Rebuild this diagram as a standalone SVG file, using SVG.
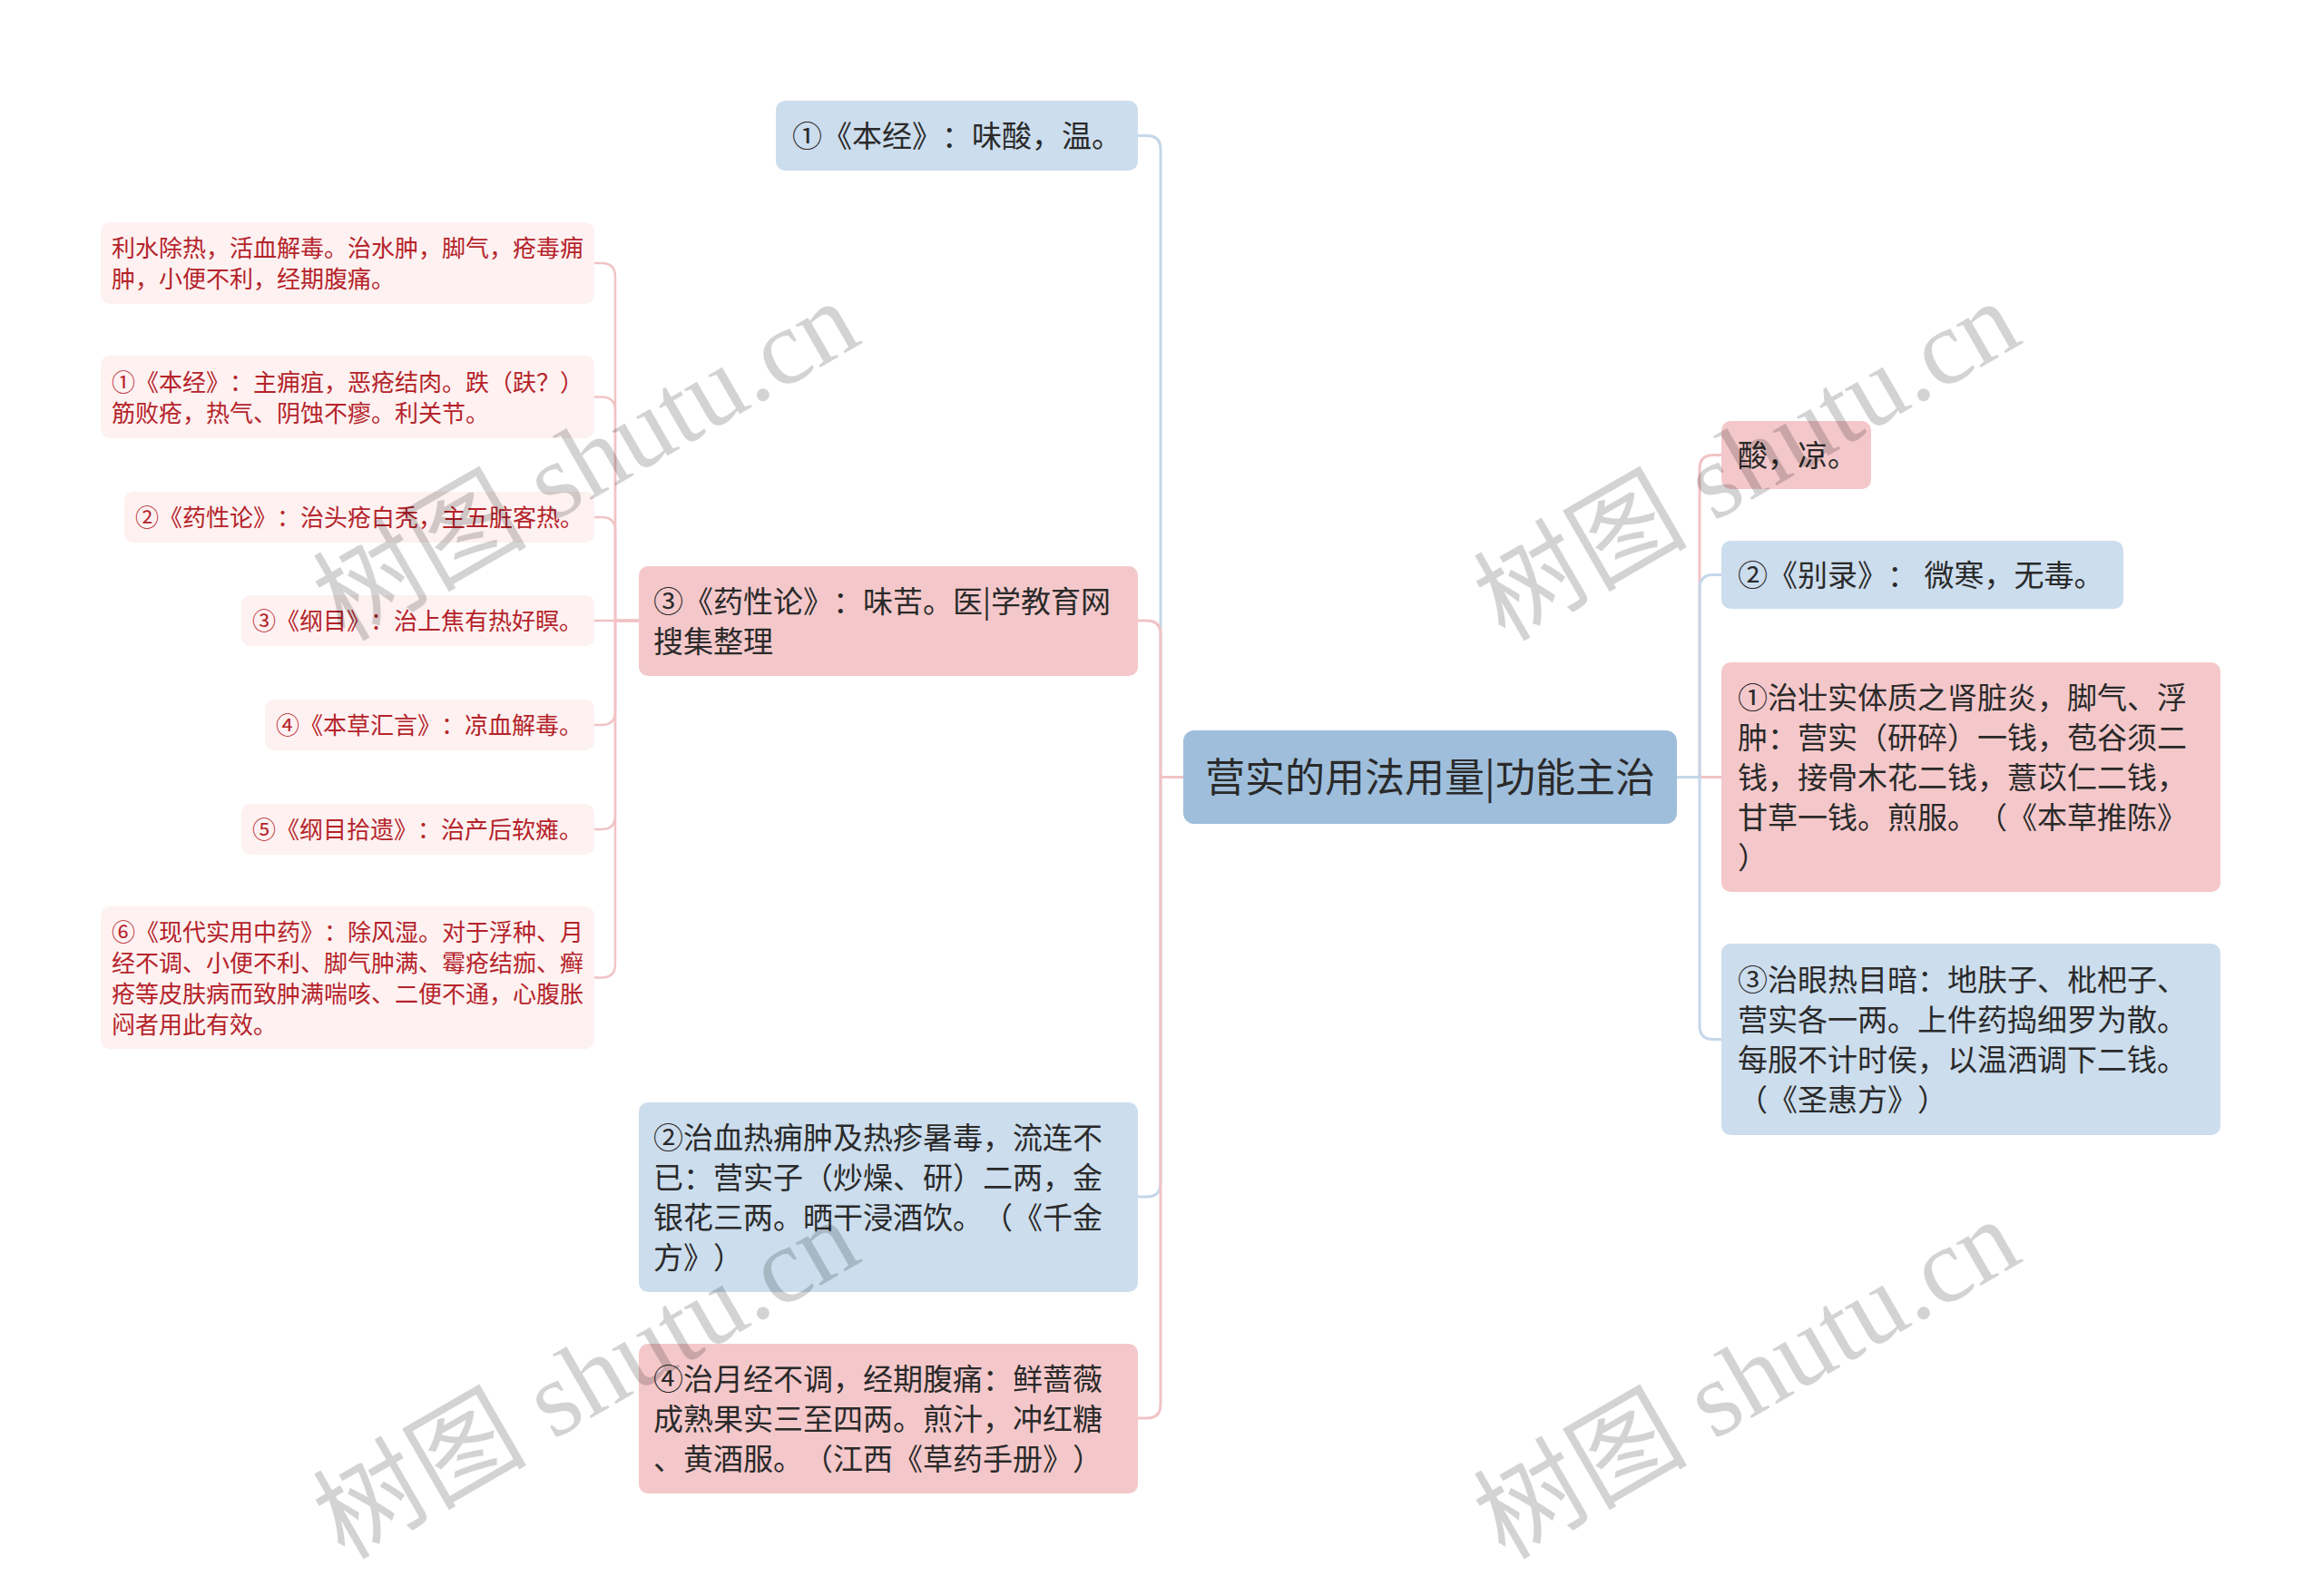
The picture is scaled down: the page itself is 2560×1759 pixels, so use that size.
<svg xmlns="http://www.w3.org/2000/svg" width="2560" height="1759" viewBox="0 0 2560 1759">
<style>
text{font-family:"Noto Sans CJK SC","Liberation Sans",sans-serif;text-spacing-trim:space-all;}
.t1{font-size:33px;fill:#2a2a2a;}
.t0{font-size:44px;fill:#2a2a2a;}
.tl{font-size:26px;fill:#b5232a;}
.blue{fill:#ccdded;}
.pink{fill:#f4c8ca;}
.leaf{fill:#fdf1f1;}
.root{fill:#9fbedb;}
.cb{fill:none;stroke:#c5d7e9;stroke-width:3;}
.cp{fill:none;stroke:#f1c3c5;stroke-width:3;}
.cl{fill:none;stroke:#f1c3c5;stroke-width:2.5;}
.wm{font-family:"Liberation Serif","Noto Sans CJK SC",serif;font-size:118px;fill:#000;opacity:0.17;}
</style>
<rect width="2560" height="1759" fill="#ffffff"/>
<g id="connectors">
<path class="cb" d="M1304 856.5 H1279 V164.5 Q1279 149.5 1264 149.5 H1254"/>
<path class="cp" d="M1304 856.5 H1279 V699 Q1279 684 1264 684 H1254"/>
<path class="cb" d="M1304 856.5 H1279 V1304 Q1279 1319 1264 1319 H1254"/>
<path class="cp" d="M1304 856.5 H1279 V1548 Q1279 1563 1264 1563 H1254"/>
<path class="cp" d="M1848 856.5 H1873 V516.5 Q1873 501.5 1888 501.5 H1897"/>
<path class="cb" d="M1848 856.5 H1873 V648.5 Q1873 633.5 1888 633.5 H1897"/>
<path class="cp" d="M1848 856.5 H1897"/>
<path class="cb" d="M1848 856.5 H1873 V1130.5 Q1873 1145.5 1888 1145.5 H1897"/>
<path class="cl" d="M704 684 H678 V305 Q678 290 663 290 H655"/>
<path class="cl" d="M704 684 H678 V452.5 Q678 437.5 663 437.5 H655"/>
<path class="cl" d="M704 684 H678 V585 Q678 570 663 570 H655"/>
<path class="cl" d="M704 684 H655"/>
<path class="cl" d="M704 684 H678 V784 Q678 799 663 799 H655"/>
<path class="cl" d="M704 684 H678 V899 Q678 914 663 914 H655"/>
<path class="cl" d="M704 684 H678 V1062.5 Q678 1077.5 663 1077.5 H655"/>
</g>
<g id="root">
<rect class="root" x="1304" y="805" width="544" height="103" rx="12"/>
<text class="t0" x="1576" y="873" text-anchor="middle">营实的用法用量|功能主治</text>
</g>
<g id="nA">
<rect class="blue" x="855" y="111" width="399" height="77" rx="10"/>
<text class="t1" x="873" y="162">①《本经》：味酸，温。</text>
</g>
<g id="nB">
<rect class="pink" x="704" y="624" width="550" height="121" rx="10"/>
<text class="t1" x="720" y="675">③《药性论》：味苦。医|学教育网</text>
<text class="t1" x="720" y="719">搜集整理</text>
</g>
<g id="nC">
<rect class="blue" x="704" y="1215" width="550" height="209" rx="10"/>
<text class="t1" x="720" y="1266">②治血热痈肿及热疹暑毒，流连不</text>
<text class="t1" x="720" y="1310">已：营实子（炒燥、研）二两，金</text>
<text class="t1" x="720" y="1354">银花三两。晒干浸酒饮。（《千金</text>
<text class="t1" x="720" y="1398">方》）</text>
</g>
<g id="nD">
<rect class="pink" x="704" y="1481" width="550" height="165" rx="10"/>
<text class="t1" x="720" y="1532">④治月经不调，经期腹痛：鲜蔷薇</text>
<text class="t1" x="720" y="1576">成熟果实三至四两。煎汁，冲红糖</text>
<text class="t1" x="720" y="1620">、黄酒服。（江西《草药手册》）</text>
</g>
<g id="nR1">
<rect class="pink" x="1897" y="464" width="165" height="75" rx="10"/>
<text class="t1" x="1915" y="514">酸，凉。</text>
</g>
<g id="nR2">
<rect class="blue" x="1897" y="596" width="443" height="75" rx="10"/>
<text class="t1" x="1915" y="646">②《别录》： 微寒，无毒。</text>
</g>
<g id="nR3">
<rect class="pink" x="1897" y="730" width="550" height="253" rx="10"/>
<text class="t1" x="1915" y="781">①治壮实体质之肾脏炎，脚气、浮</text>
<text class="t1" x="1915" y="825">肿：营实（研碎）一钱，苞谷须二</text>
<text class="t1" x="1915" y="869">钱，接骨木花二钱，薏苡仁二钱，</text>
<text class="t1" x="1915" y="913">甘草一钱。煎服。（《本草推陈》</text>
<text class="t1" x="1915" y="957">）</text>
</g>
<g id="nR4">
<rect class="blue" x="1897" y="1040" width="550" height="211" rx="10"/>
<text class="t1" x="1915" y="1092">③治眼热目暗：地肤子、枇杷子、</text>
<text class="t1" x="1915" y="1136">营实各一两。上件药捣细罗为散。</text>
<text class="t1" x="1915" y="1180">每服不计时侯，以温洒调下二钱。</text>
<text class="t1" x="1915" y="1224">（《圣惠方》）</text>
</g>
<g id="nL1">
<rect class="leaf" x="111" y="245" width="544" height="90" rx="10"/>
<text class="tl" x="123" y="283">利水除热，活血解毒。治水肿，脚气，疮毒痈</text>
<text class="tl" x="123" y="317">肿，小便不利，经期腹痛。</text>
</g>
<g id="nL2">
<rect class="leaf" x="111" y="392" width="544" height="91" rx="10"/>
<text class="tl" x="123" y="430.5">①《本经》：主痈疽，恶疮结肉。跌（趺？）</text>
<text class="tl" x="123" y="464.5">筋败疮，热气、阴蚀不瘳。利关节。</text>
</g>
<g id="nL3">
<rect class="leaf" x="137" y="542" width="518" height="56" rx="10"/>
<text class="tl" x="149" y="580">②《药性论》：治头疮白秃，主五脏客热。</text>
</g>
<g id="nL4">
<rect class="leaf" x="266" y="656" width="389" height="56" rx="10"/>
<text class="tl" x="278" y="694">③《纲目》：治上焦有热好瞑。</text>
</g>
<g id="nL5">
<rect class="leaf" x="292" y="771" width="363" height="56" rx="10"/>
<text class="tl" x="304" y="809">④《本草汇言》：凉血解毒。</text>
</g>
<g id="nL6">
<rect class="leaf" x="266" y="886" width="389" height="56" rx="10"/>
<text class="tl" x="278" y="924">⑤《纲目拾遗》：治产后软瘫。</text>
</g>
<g id="nL7">
<rect class="leaf" x="111" y="999" width="544" height="157" rx="10"/>
<text class="tl" x="123" y="1036.5">⑥《现代实用中药》：除风湿。对于浮种、月</text>
<text class="tl" x="123" y="1070.5">经不调、小便不利、脚气肿满、霉疮结痂、癣</text>
<text class="tl" x="123" y="1104.5">疮等皮肤病而致肿满喘咳、二便不通，心腹胀</text>
<text class="tl" x="123" y="1138.5">闷者用此有效。</text>
</g>
<g id="watermarks">
<text class="wm" x="645" y="548" text-anchor="middle" transform="rotate(-30 645 506)">树图 shutu.cn</text>
<text class="wm" x="1924" y="548" text-anchor="middle" transform="rotate(-30 1924 506)">树图 shutu.cn</text>
<text class="wm" x="645" y="1560" text-anchor="middle" transform="rotate(-30 645 1518)">树图 shutu.cn</text>
<text class="wm" x="1924" y="1560" text-anchor="middle" transform="rotate(-30 1924 1518)">树图 shutu.cn</text>
</g>
</svg>
